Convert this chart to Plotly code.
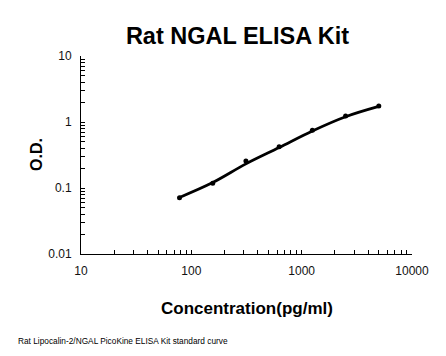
import plotly.graph_objects as go

concentration = [78.125, 156.25, 312.5, 625, 1250, 2500, 5000]
od_measured = [0.071, 0.118, 0.257, 0.423, 0.749, 1.23, 1.75]
od_fit = [0.072, 0.121, 0.232, 0.41, 0.73, 1.2, 1.72]

x_major = [10, 100, 1000, 10000]
x_major_labels = ["10", "100", "1000", "10000"]
y_major = [0.01, 0.1, 1, 10]
y_major_labels = ["0.01", "0.1", "1", "10"]

def ticks(majors, labels):
    vals, texts = [], []
    for i, m in enumerate(majors):
        vals.append(m)
        texts.append(labels[i])
        if i < len(majors) - 1:
            for k in range(2, 10):
                vals.append(m * k)
                texts.append("")
    return vals, texts

xv, xt = ticks(x_major, x_major_labels)
yv, yt = ticks(y_major, y_major_labels)

fig = go.Figure()
fig.add_trace(go.Scatter(x=concentration, y=od_fit, mode="lines",
                         line=dict(color="black", width=2.8, shape="spline"),
                         showlegend=False, hoverinfo="skip"))
fig.add_trace(go.Scatter(x=concentration, y=od_measured, mode="markers",
                         marker=dict(color="black", size=5),
                         showlegend=False))

font = "Liberation Sans, Arial, sans-serif"
fig.update_layout(
    width=438, height=348,
    margin=dict(l=73, r=34, t=48, b=102),
    paper_bgcolor="white", plot_bgcolor="white",
    font=dict(family=font, color="black", size=11),
    title=dict(text="<b>Rat NGAL ELISA Kit</b>", x=0.524, xanchor="center",
               y=1 - 28 / 348, yanchor="middle", yref="container",
               font=dict(size=23.5, family=font, color="black")),
    xaxis=dict(type="log", range=[1, 4], showline=True, linecolor="black", linewidth=1,
               showgrid=False, zeroline=False, ticks="inside", ticklen=4, tickcolor="black",
               tickvals=xv, ticktext=xt, tickfont=dict(size=12, color="#111"), automargin=False,
               ticklabelstandoff=6),
    yaxis=dict(type="log", range=[-2, 1], showline=True, linecolor="black", linewidth=1,
               showgrid=False, zeroline=False, ticks="inside", ticklen=4, tickcolor="black",
               tickvals=yv, ticktext=yt, tickfont=dict(size=12, color="#111"), automargin=False,
               ticklabelstandoff=6),
    annotations=[
        dict(text="<b>O.D.</b>", xref="paper", yref="paper", x=0, y=0.5, xanchor="center",
             yanchor="middle", xshift=-45, textangle=-90, showarrow=False,
             font=dict(size=16, family=font, color="black")),
        dict(text="<b>Concentration(pg/ml)</b>", xref="paper", yref="paper", x=0.5, y=0,
             xanchor="center", yanchor="middle", yshift=-54, showarrow=False,
             font=dict(size=17, family=font, color="black")),
        dict(text="Rat Lipocalin-2/NGAL PicoKine ELISA Kit standard curve", xref="paper",
             yref="paper", x=0, y=0, xanchor="left", yanchor="middle", xshift=-65, yshift=-87,
             showarrow=False, font=dict(size=8.3, family=font, color="black")),
    ],
)
fig.write_html("out.html")
